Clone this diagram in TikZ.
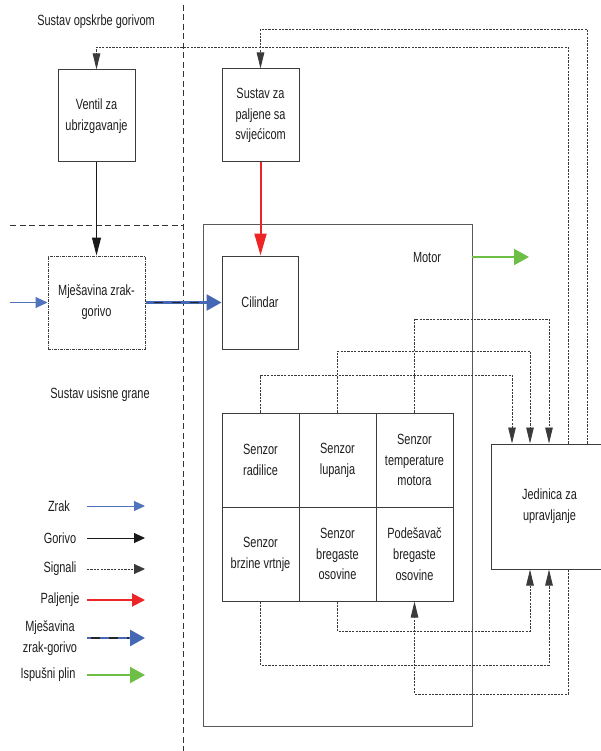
\documentclass[tikz,border=0pt]{standalone}
\usepackage{fontspec}
\setmainfont{Liberation Sans}[FakeStretch=0.74]
\usetikzlibrary{arrows.meta}
\definecolor{boxgray}{HTML}{3C3C3C}
\definecolor{siggray}{HTML}{3A3A3A}
\definecolor{airblue}{HTML}{4F74BD}
\definecolor{mixblue}{HTML}{4468B4}
\definecolor{ignred}{HTML}{EE2526}
\definecolor{exhgreen}{HTML}{6DBE45}
\definecolor{txt}{HTML}{1E1E1E}
\tikzset{
  box/.style={draw=boxgray, line width=1pt, inner sep=0pt, align=center,
    text=txt, font=\fontsize{14.8}{20.8}\selectfont},
  lbl/.style={inner sep=0pt, align=center, text=txt, font=\fontsize{14.8}{20.8}\selectfont},
  divider/.style={draw=black!80, line width=0.9pt, dash pattern=on 6pt off 3.5pt},
  sig/.style={draw=siggray, line width=0.9pt, dash pattern=on 2.2pt off 1.2pt},
  sighead/.style={-{Triangle[length=16pt,width=7.5pt]}},
  fuel/.style={draw=black!90, line width=1pt, -{Triangle[length=18pt,width=9pt]}},
  ign/.style={draw=ignred, line width=2pt, -{Triangle[length=22pt,width=12pt]}},
  air/.style={draw=airblue, line width=1pt, -{Triangle[length=12pt,width=11pt]}},
  mix/.style={draw=mixblue, line width=2.6pt, -{Triangle[length=15pt,width=16pt]}},
  mixdash/.style={draw=black!85, line width=1.1pt, dash pattern=on 9pt off 9pt, dash phase=-8pt},
  exh/.style={draw=exhgreen, line width=2pt, -{Triangle[length=15pt,width=16pt]}},
}
\begin{document}
\begin{tikzpicture}[x=1pt,y=-1pt]
\useasboundingbox[fill=white] (0,0) rectangle (601,751);

% section dividers
\draw[divider] (183,5) -- (183,751);
\draw[divider] (10,225) -- (183,225);

% section titles
\node[lbl] (tfuel) at (96,22) {Sustav opskrbe gorivom};
\node[lbl] (tintake) at (100,395) {Sustav usisne grane};

% engine enclosure
\draw[draw=boxgray!85, line width=1pt] (203,224) rectangle (472,726);
\node[lbl] (motor) at (427,257) {Motor};

% blocks
\node[box, minimum width=77pt, minimum height=92pt] (ventil) at (96.5,116) {Ventil za\\ubrizgavanje};
\node[box, minimum width=77pt, minimum height=93pt] (palj) at (260.5,115.5) {Sustav za\\paljene sa\\svijećicom};
\node[box, dash pattern=on 3pt off 1pt on 1pt off 1pt, minimum width=97pt, minimum height=93pt] (mixbox) at (96.5,302.5) {Mješavina zrak-\\gorivo};
\node[box, minimum width=76pt, minimum height=93pt] (cil) at (260,302.5) {Cilindar};

% sensor grid
\node[box, minimum width=77pt, minimum height=94pt] (rad) at (260.5,460) {Senzor\\radilice};
\node[box, minimum width=77pt, minimum height=94pt] (lup) at (337.5,460) {Senzor\\lupanja};
\node[box, minimum width=77pt, minimum height=94pt] (temp) at (414.5,460) {Senzor\\temperature\\motora};
\node[box, minimum width=77pt, minimum height=94pt] (brz) at (260.5,554) {Senzor\\brzine vrtnje};
\node[box, minimum width=77pt, minimum height=94pt] (breg) at (337.5,554) {Senzor\\bregaste\\osovine};
\node[box, minimum width=77pt, minimum height=94pt] (pod) at (414.5,554) {Podešavač\\bregaste\\osovine};

% control unit
\node[box, minimum width=117pt, minimum height=125pt] (ecu) at (549.5,506.5) {Jedinica za\\upravljanje};

% fuel, ignition, air, mixture, exhaust
\draw[fuel] (ventil.south) -- (mixbox.north);
\draw[ign] (palj.south) -- (palj.south |- cil.north);
\coordinate (airin) at (10,302.5);
\draw[air] (airin) -- (mixbox.west);
\draw[mix] (mixbox.east) -- (cil.west);
\draw[mixdash] (mixbox.east) -- ([xshift=-16pt]cil.west);
\coordinate (exhout) at (529,257);
\draw[exh] (exhout -| 472,0) -- (exhout);

% sensor signals into the control unit
\coordinate (s1) at (512,375);
\coordinate (s2) at (530,351);
\coordinate (s3) at (549,319);
\draw[sig, sighead] (rad.north) |- (s1) -- (s1 |- ecu.north);
\draw[sig, sighead] (lup.north) |- (s2) -- (s2 |- ecu.north);
\draw[sig, sighead] (temp.north) |- (s3) -- (s3 |- ecu.north);
\coordinate (b1) at (530,631);
\coordinate (b2) at (549,665);
\coordinate (b3) at (568,694);
\draw[sig, sighead] (breg.south) |- (b1) -- (b1 |- ecu.south);
\draw[sig, sighead] (brz.south) |- (b2) -- (b2 |- ecu.south);
\draw[sig, sighead] (b3 |- ecu.south) -- (b3) -| (pod.south);

% control outputs to injector and ignition
\coordinate (t1) at (568,47);
\coordinate (t2) at (587,29);
\draw[sig, sighead] (t1 |- ecu.north) -- (t1) -| (ventil.north);
\draw[sig, sighead] (t2 |- ecu.north) -- (t2) -| (palj.north);

% legend
\node[lbl] (lzrak) at (59,506) {Zrak};
\node[lbl] (lgor) at (60,538) {Gorivo};
\node[lbl] (lsig) at (60,569) {Signali};
\node[lbl] (lpalj) at (60,600) {Paljenje};
\node[lbl] (lmix) at (50,638) {Mješavina\\zrak-gorivo};
\node[lbl] (lexh) at (48,675) {Ispušni plin};
\coordinate (za) at (87,506);  \coordinate (zb) at (145,506);
\coordinate (ga) at (87,538);  \coordinate (gb) at (145,538);
\coordinate (sa) at (87,569);  \coordinate (sb) at (145,569);
\coordinate (pa) at (87,600);  \coordinate (pb) at (145,600);
\coordinate (ma) at (87,638);  \coordinate (mb) at (145,638);
\coordinate (ea) at (87,675);  \coordinate (eb) at (145,675);
\draw[air, -{Triangle[length=11pt,width=10pt]}] (za) -- (zb);
\draw[fuel, -{Triangle[length=11pt,width=10pt]}] (ga) -- (gb);
\draw[sig, -{Triangle[length=11pt,width=10pt]}] (sa) -- (sb);
\draw[ign, -{Triangle[length=13pt,width=13pt]}] (pa) -- (pb);
\draw[mix] (ma) -- (mb);
\draw[mixdash, dash phase=-4pt] (ma) -- ([xshift=-16pt]mb);
\draw[exh] (ea) -- (eb);
\end{tikzpicture}
\end{document}
